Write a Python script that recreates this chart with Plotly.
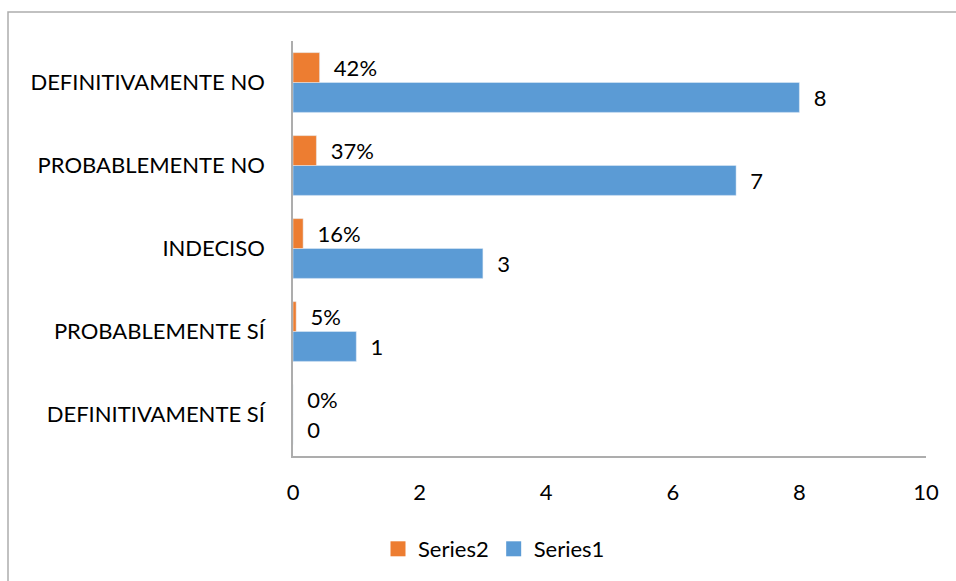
import plotly.graph_objects as go

categories = ["DEFINITIVAMENTE SÍ", "PROBABLEMENTE SÍ", "INDECISO", "PROBABLEMENTE NO", "DEFINITIVAMENTE NO"]
series1 = [0, 1, 3, 7, 8]
series2 = [0.0, 0.05, 0.16, 0.37, 0.42]
x_ticks = [0, 2, 4, 6, 8, 10]
names = ["Series1", "Series2"]
colors = ["#5B9BD5", "#ED7D31"]

FONT = "Lato"
FS = 22
PAD = "\u00a0\u00a0"

fig = go.Figure()
fig.add_trace(go.Bar(
    y=categories, x=series1, orientation="h", name=names[0],
    marker=dict(color=colors[0]), showlegend=False,
    texttemplate=PAD + "%{x}", textposition="outside", constraintext="none",
    cliponaxis=False, textfont=dict(family=FONT, size=FS, color="#000000"),
    hoverinfo="skip",
))
fig.add_trace(go.Bar(
    y=categories, x=series2, orientation="h", name=names[1],
    marker=dict(color=colors[1]), showlegend=False,
    texttemplate=PAD + "%{x:.0%}", textposition="outside", constraintext="none",
    cliponaxis=False, textfont=dict(family=FONT, size=FS, color="#000000"),
    hoverinfo="skip",
))
# legend entries with larger square swatches
for nm, col in zip(names, colors):
    fig.add_trace(go.Scatter(
        x=[None], y=[None], mode="markers", name=nm,
        marker=dict(symbol="square", size=15, color=col),
        showlegend=True, hoverinfo="skip",
    ))

L, R, T, B = 293, 30, 41, 124
W, H = 956, 581
pw, ph = W - L - R, H - T - B

fig.update_layout(
    width=W, height=H,
    margin=dict(l=L, r=R, t=T, b=B, pad=0),
    paper_bgcolor="white", plot_bgcolor="white",
    barmode="group", bargap=0.28, bargroupgap=0,
    font=dict(family=FONT, size=FS, color="#000000"),
    showlegend=True,
    legend=dict(
        orientation="h", traceorder="reversed",
        x=(494 - L) / pw, xanchor="center",
        y=(457 - 549) / ph, yanchor="middle",
        font=dict(family=FONT, size=FS, color="#000000"),
        itemsizing="trace", itemwidth=30,
    ),
    xaxis=dict(
        range=[0, 10], tickvals=x_ticks, showgrid=False, zeroline=False,
        showline=True, linecolor="#ADADAD", linewidth=1.5,
        ticks="", ticklabelstandoff=16,
        tickfont=dict(family=FONT, size=FS, color="#000000"),
    ),
    yaxis=dict(
        categoryorder="array", categoryarray=categories,
        showgrid=False, zeroline=False,
        showline=True, linecolor="#ADADAD", linewidth=1.5,
        ticks="", ticklabelstandoff=22,
        tickfont=dict(family=FONT, size=FS, color="#000000"),
    ),
    shapes=[dict(
        type="rect", xref="paper", yref="paper",
        x0=(8 - L) / pw, x1=(970 - L) / pw,
        y0=(457 - 600) / ph, y1=(457 - 12) / ph,
        line=dict(color="#ADADAD", width=1.5), fillcolor="rgba(0,0,0,0)",
        layer="below",
    )],
)

fig.write_html("out.html")
